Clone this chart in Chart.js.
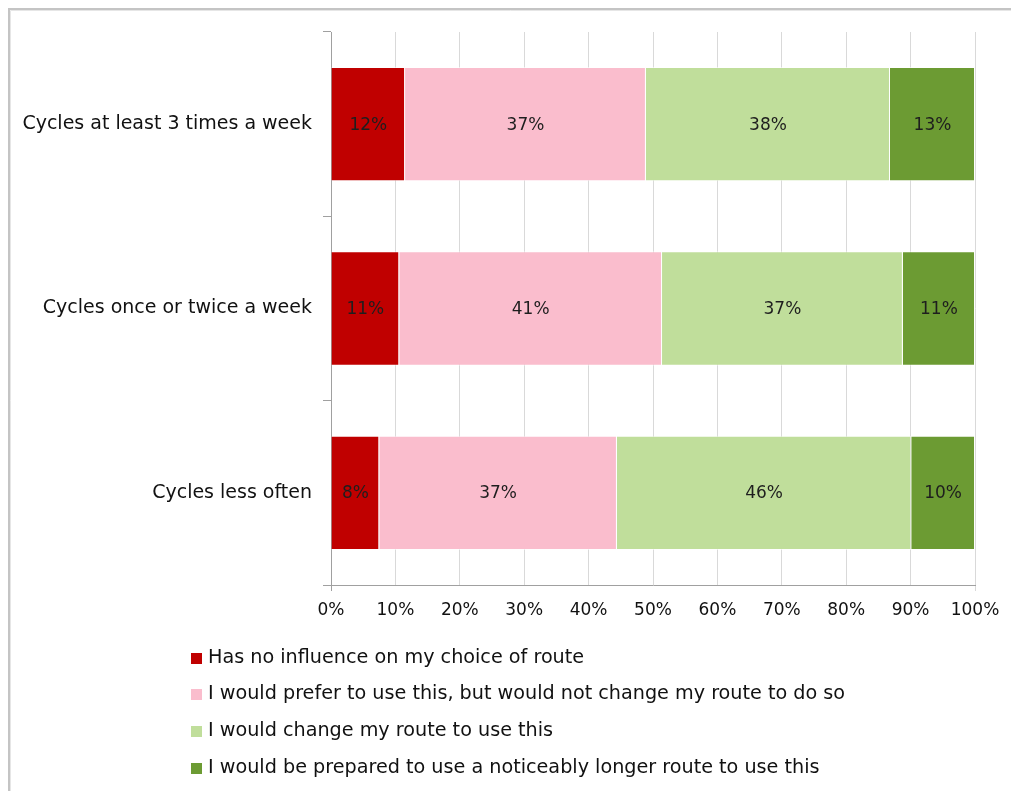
<!DOCTYPE html>
<html>
<head>
<meta charset="utf-8">
<script src="https://cdn.jsdelivr.net/npm/chart.js@4.4.1/dist/chart.umd.min.js"></script>
<style>
html,body{margin:0;padding:0;background:#fff;}
#wrap{position:relative;width:1011px;height:791px;}
</style>
</head>
<body>
<div id="wrap"><canvas id="c"></canvas></div>
<script>
const categories = ["Cycles at least 3 times a week", "Cycles once or twice a week", "Cycles less often"];
const seriesNames = [
  "Has no influence on my choice of route",
  "I would prefer to use this, but would not change my route to do so",
  "I would change my route to use this",
  "I would be prepared to use a noticeably longer route to use this"
];
const noInfluence = [11.5, 10.6, 7.5];
const preferNoChange = [37.4, 40.8, 36.9];
const wouldChange = [37.9, 37.4, 45.7];
const longerRoute = [13.2, 11.2, 9.9];
const xTicks = [0, 10, 20, 30, 40, 50, 60, 70, 80, 90, 100];
const colors = ["#C00000", "#FABDCD", "#C0DE9B", "#6C9B33"];

const seriesValues = [noInfluence, preferNoChange, wouldChange, longerRoute];
const FONT = "'DejaVu Sans', sans-serif";

const framePlugin = {
  id: 'frame',
  beforeDraw(chart) {
    const ctx = chart.ctx;
    ctx.save();
    ctx.strokeStyle = '#e6e6e6';
    ctx.lineWidth = 1;
    ctx.beginPath();
    ctx.moveTo(10.5, 10.5); ctx.lineTo(1011, 10.5);
    ctx.moveTo(10.5, 10.5); ctx.lineTo(10.5, 791);
    ctx.stroke();
    ctx.strokeStyle = '#c4c4c4';
    ctx.lineWidth = 2;
    ctx.beginPath();
    ctx.moveTo(8, 9); ctx.lineTo(1011, 9);
    ctx.moveTo(9, 8); ctx.lineTo(9, 791);
    ctx.stroke();
    ctx.restore();
  }
};

const labelPlugin = {
  id: 'barLabels',
  afterDatasetsDraw(chart) {
    const ctx = chart.ctx;
    ctx.save();
    ctx.font = "17px " + FONT;
    ctx.fillStyle = '#1e1e1e';
    ctx.textAlign = 'center';
    ctx.textBaseline = 'middle';
    chart.data.datasets.forEach((ds, di) => {
      const meta = chart.getDatasetMeta(di);
      meta.data.forEach((bar, i) => {
        const v = ds.data[i];
        const cx = (bar.x + bar.base) / 2;
        ctx.fillText(Math.round(v) + '%', cx, bar.y + 1);
      });
    });
    ctx.restore();
  }
};

const legendPlugin = {
  id: 'customLegend',
  afterDraw(chart) {
    const ctx = chart.ctx;
    ctx.save();
    ctx.font = "19.2px " + FONT;
    ctx.textAlign = 'left';
    ctx.textBaseline = 'middle';
    const rows = [658, 694, 731, 768];
    chart.data.datasets.forEach((ds, i) => {
      const y = rows[i];
      ctx.fillStyle = ds.backgroundColor;
      ctx.fillRect(191, y - 5, 11, 11);
      ctx.fillStyle = '#111';
      ctx.fillText(ds.label, 208, y);
    });
    ctx.restore();
  }
};

const tickColors = xTicks.map((t, i) => i === 0 ? '#a0a0a0' : (i === xTicks.length - 1 ? '#d9d9d9' : 'rgba(0,0,0,0)'));

new Chart(document.getElementById('c'), {
  type: 'bar',
  data: {
    labels: categories,
    datasets: seriesNames.map((name, i) => ({
      label: name,
      data: seriesValues[i],
      backgroundColor: colors[i],
      borderColor: 'rgba(255,255,255,0.55)',
      borderWidth: 1,
      barPercentage: 0.62,
      categoryPercentage: 1.0
    }))
  },
  options: {
    indexAxis: 'y',
    responsive: true,
    maintainAspectRatio: false,
    animation: false,
    layout: { padding: { left: 0, top: 32, right: 36, bottom: 150 } },
    plugins: {
      legend: { display: false },
      tooltip: { enabled: false }
    },
    scales: {
      x: {
        stacked: true,
        min: 0,
        max: 100,
        afterBuildTicks(scale) { scale.ticks = xTicks.map(v => ({ value: v })); },
        ticks: {
          callback: v => v + '%',
          font: { family: FONT, size: 17 },
          color: '#111',
          padding: 9,
          maxRotation: 0
        },
        grid: {
          color: '#d9d9d9',
          lineWidth: 1,
          tickLength: 6,
          tickColor: tickColors
        },
        border: { display: true, color: '#a0a0a0', width: 1 },
        afterFit(scale) { scale.height = 56; }
      },
      y: {
        stacked: true,
        ticks: {
          font: { family: FONT, size: 19 },
          color: '#111',
          padding: 11
        },
        grid: {
          offset: true,
          drawOnChartArea: false,
          drawTicks: true,
          tickLength: 8,
          color: '#a0a0a0'
        },
        border: { display: true, color: '#a0a0a0', width: 1 },
        afterFit(scale) { scale.width = 331; }
      }
    }
  },
  plugins: [framePlugin, labelPlugin, legendPlugin]
});
</script>
</body>
</html>
